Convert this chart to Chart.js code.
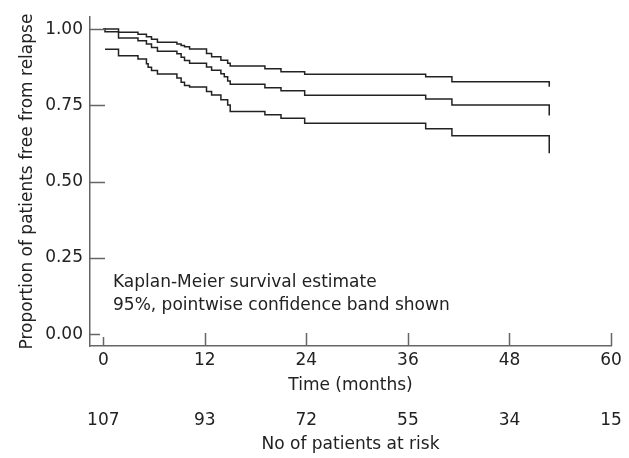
<!DOCTYPE html>
<html>
<head>
<meta charset="utf-8">
<script src="https://cdn.jsdelivr.net/npm/chart.js@4"></script>
<style>
  body { margin: 0; background: #fff; }
  #wrap { width: 629px; height: 458px; }
</style>
</head>
<body>
<div id="wrap"><canvas id="chart-km"></canvas></div>
<script>
// time of each step (months) and the value after the step
var months = [0, 0.2, 1.8, 4.1, 5.1, 5.3, 5.7, 6.4, 8.7, 9.2, 9.6, 10.2, 12.2, 12.8, 13.9, 14.3, 14.7, 15.0, 19.1, 21.0, 23.8, 38.1, 41.2, 52.7]
var estimate = [1.000, 0.991, 0.971, 0.962, 0.951, 0.951, 0.940, 0.927, 0.919, 0.908, 0.897, 0.888, 0.876, 0.865, 0.854, 0.844, 0.830, 0.819, 0.808, 0.798, 0.783, 0.771, 0.751, 0.717]
var upperBand = [1.000, 1.000, 0.990, 0.983, 0.975, 0.975, 0.967, 0.957, 0.951, 0.946, 0.942, 0.935, 0.920, 0.909, 0.898, 0.898, 0.888, 0.879, 0.870, 0.860, 0.852, 0.844, 0.827, 0.811]
var lowerBand = [null, 0.934, 0.913, 0.902, 0.886, 0.875, 0.864, 0.853, 0.840, 0.826, 0.815, 0.810, 0.795, 0.784, 0.768, 0.768, 0.751, 0.730, 0.719, 0.708, 0.691, 0.673, 0.650, 0.593]

var xTicks = [0, 12, 24, 36, 48, 60]
var yTicks = [0, 0.25, 0.5, 0.75, 1]
var atRisk = [107, 93, 72, 55, 34, 15]

var noteLines = ['Kaplan-Meier survival estimate', '95%, pointwise confidence band shown']
var noteX = 1.15
var noteY = [0.153, 0.078]

var font = '"DejaVu Sans", sans-serif'
var ink = '#222'
var axisGrey = '#666'

function toPoints(values) {
	return months.map((m, i) => ({x: m, y: values[i]}))
}

function curve(label, values) {
	return {
		label: label,
		data: toPoints(values),
		stepped: true,
		borderColor: ink,
		borderWidth: 1.5,
		pointRadius: 0,
		fill: false
	}
}

// tick marks point into the plot area, so draw them here
var innerTicks = {
	id: 'innerTicks',
	afterDraw(chart) {
		var ctx = chart.ctx, a = chart.chartArea
		var x = chart.scales.x, y = chart.scales.y
		ctx.save()
		ctx.strokeStyle = axisGrey
		ctx.lineWidth = 1.5
		ctx.beginPath()
		yTicks.forEach(v => {
			var py = Math.round(y.getPixelForValue(v)) + 0.5
			ctx.moveTo(a.left, py)
			ctx.lineTo(a.left + (v == 0 ? 10 : 15), py)
		})
		xTicks.forEach(v => {
			var px = Math.round(x.getPixelForValue(v)) + 0.5
			ctx.moveTo(px, a.bottom)
			ctx.lineTo(px, a.bottom - (v == 0 ? 9 : 13))
		})
		ctx.stroke()
		ctx.restore()
	}
}

var note = {
	id: 'note',
	afterDatasetsDraw(chart) {
		var ctx = chart.ctx
		var x = chart.scales.x, y = chart.scales.y
		ctx.save()
		ctx.font = '17px ' + font
		ctx.fillStyle = ink
		ctx.textBaseline = 'alphabetic'
		noteLines.forEach((t, i) => ctx.fillText(t, x.getPixelForValue(noteX), y.getPixelForValue(noteY[i])))
		ctx.restore()
	}
}

var tickFont = {family: font, size: 17}

var ctx = document.getElementById('chart-km').getContext('2d')
var chart = new Chart(ctx, {
	type: 'line',
	data: {
		datasets: [
			curve('Upper 95% limit', upperBand),
			curve('Kaplan-Meier estimate', estimate),
			curve('Lower 95% limit', lowerBand)
		]
	},
	options: {
		responsive: true,
		maintainAspectRatio: false,
		animation: false,
		layout: {padding: {top: 15, right: 18, left: 0, bottom: 0}},
		plugins: {legend: {display: false}, tooltip: {enabled: false}},
		scales: {
			x: {
				type: 'linear',
				position: 'bottom',
				weight: 0,
				min: -1.57,
				max: 60,
				afterBuildTicks: s => { s.ticks = xTicks.map(v => ({value: v})) },
				afterFit: s => { s.height = 57 },
				grid: {display: false, drawTicks: false},
				border: {display: true, color: axisGrey, width: 1.5},
				ticks: {color: ink, font: tickFont, padding: 4, maxRotation: 0},
				title: {display: true, text: 'Time (months)', color: ink, font: tickFont, padding: {top: 0, bottom: 7}}
			},
			x2: {
				type: 'linear',
				position: 'bottom',
				weight: 1,
				min: -1.57,
				max: 60,
				afterBuildTicks: s => { s.ticks = xTicks.map(v => ({value: v})) },
				afterFit: s => { s.height = 55 },
				grid: {display: false, drawTicks: false},
				border: {display: false},
				ticks: {color: ink, font: tickFont, padding: 7, maxRotation: 0, callback: (v, i) => atRisk[i]},
				title: {display: true, text: 'No of patients at risk', color: ink, font: tickFont, padding: {top: 0, bottom: 3}}
			},
			y: {
				min: -0.039,
				max: 1.039,
				afterBuildTicks: s => { s.ticks = yTicks.map(v => ({value: v})) },
				afterFit: s => { s.width = 90 },
				grid: {display: false, drawTicks: false},
				border: {display: true, color: axisGrey, width: 1.5},
				ticks: {color: ink, font: tickFont, padding: 7, callback: v => v.toFixed(2)},
				title: {display: true, text: 'Proportion of patients free from relapse', color: ink, font: tickFont, padding: {top: 17, bottom: 0}}
			}
		}
	},
	plugins: [innerTicks, note]
})
</script>
</body>
</html>
